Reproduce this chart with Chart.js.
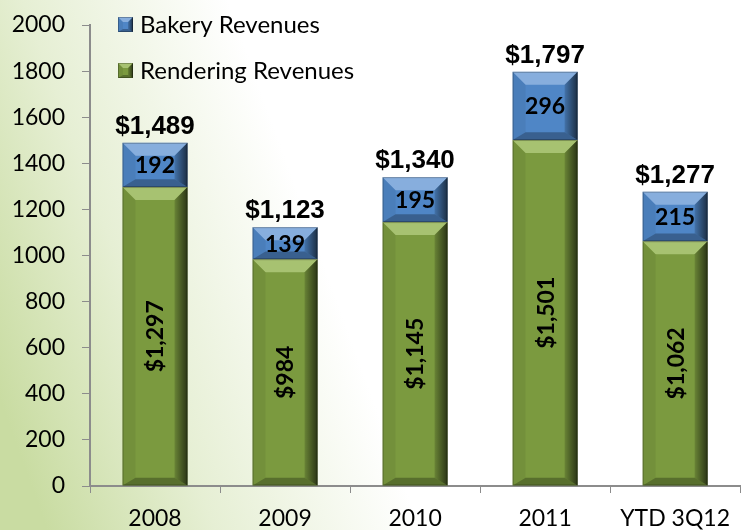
<!DOCTYPE html>
<html>
<head>
<meta charset="utf-8">
<script src="https://cdn.jsdelivr.net/npm/chart.js@4/dist/chart.umd.min.js"></script>
<style>
  html, body { margin: 0; padding: 0; background: #fff; }
  #wrap { width: 742px; height: 530px; position: relative; }
</style>
</head>
<body>
<div id="wrap"><canvas id="revChart" width="742" height="530"></canvas></div>
<script>
// revenue by year, $ millions
const years = ['2008', '2009', '2010', '2011', 'YTD 3Q12'];
const renderingRev = [1297, 984, 1145, 1501, 1062];
const bakeryRev = [192, 139, 195, 296, 215];
const totalRev = [1489, 1123, 1340, 1797, 1277];
const yTicks = [0, 200, 400, 600, 800, 1000, 1200, 1400, 1600, 1800, 2000];

const GREEN = '#7b9a3f';
const BLUE = '#4f86c6';
const HILITE = { [GREEN]: 'rgba(235,255,190,0.4)', [BLUE]: 'rgba(220,235,255,0.4)' };

const fmtMoney = v => '$' + v.toLocaleString('en-US');

// soft green wash coming in from the left edge
const bgPlugin = {
    id: 'bgWash',
    beforeDraw(chart) {
        const ctx = chart.ctx;
        const g = ctx.createLinearGradient(0, 400, 330, 280);
        g.addColorStop(0, '#c9dca2');
        g.addColorStop(0.45, '#e6efd4');
        g.addColorStop(1, '#ffffff');
        ctx.save();
        ctx.fillStyle = g;
        ctx.fillRect(0, 0, chart.width, chart.height);
        ctx.restore();
    }
};

// chiselled edges drawn over a rectangle
function bevel(ctx, l, t, r, b, size, hilite) {
    const w = r - l, h = b - t;
    const s = Math.min(size, w / 2, h / 2);
    const sb = Math.min(size * 0.6, h / 2);
    ctx.save();
    // top
    ctx.fillStyle = hilite || 'rgba(255,255,255,0.35)';
    ctx.beginPath();
    ctx.moveTo(l, t); ctx.lineTo(r, t); ctx.lineTo(r - s, t + s); ctx.lineTo(l + s, t + s);
    ctx.fill();
    // left
    ctx.fillStyle = 'rgba(0,0,0,0.06)';
    ctx.beginPath();
    ctx.moveTo(l, t); ctx.lineTo(l + s, t + s); ctx.lineTo(l + s, b - sb); ctx.lineTo(l, b);
    ctx.fill();
    // right
    const gr = ctx.createLinearGradient(r - s, 0, r, 0);
    gr.addColorStop(0, 'rgba(0,0,0,0.15)');
    gr.addColorStop(1, 'rgba(0,0,0,0.66)');
    ctx.fillStyle = gr;
    ctx.beginPath();
    ctx.moveTo(r, t); ctx.lineTo(r, b); ctx.lineTo(r - s, b - sb); ctx.lineTo(r - s, t + s);
    ctx.fill();
    // bottom
    ctx.fillStyle = 'rgba(0,0,0,0.28)';
    ctx.beginPath();
    ctx.moveTo(l, b); ctx.lineTo(r, b); ctx.lineTo(r - s, b - sb); ctx.lineTo(l + s, b - sb);
    ctx.fill();
    ctx.strokeStyle = 'rgba(0,0,0,0.25)';
    ctx.lineWidth = 1;
    ctx.strokeRect(l + 0.5, t + 0.5, w - 1, h - 1);
    ctx.restore();
}

const bevelPlugin = {
    id: 'barBevel',
    afterDatasetsDraw(chart) {
        const ctx = chart.ctx;
        chart.data.datasets.forEach((ds, i) => {
            chart.getDatasetMeta(i).data.forEach(bar => {
                const half = bar.width / 2;
                bevel(ctx, bar.x - half, Math.min(bar.y, bar.base), bar.x + half, Math.max(bar.y, bar.base), 13, HILITE[ds.backgroundColor]);
            });
        });
    }
};

// segment values, totals on top, and the legend in the upper left
const labelPlugin = {
    id: 'barLabels',
    afterDraw(chart) {
        const ctx = chart.ctx;
        const green = chart.getDatasetMeta(0).data;
        const blue = chart.getDatasetMeta(1).data;
        ctx.save();
        ctx.fillStyle = '#000';
        ctx.textAlign = 'center';
        ctx.textBaseline = 'middle';

        green.forEach((bar, i) => {
            ctx.save();
            ctx.translate(bar.x, (bar.y + bar.base) / 2);
            ctx.rotate(-Math.PI / 2);
            ctx.font = 'bold 23px Lato';
            ctx.fillText(fmtMoney(renderingRev[i]), 0, 1);
            ctx.restore();
        });

        blue.forEach((bar, i) => {
            ctx.font = 'bold 23px Lato';
            ctx.fillText(String(bakeryRev[i]), bar.x, (bar.y + bar.base) / 2 + 1);
            ctx.font = 'bold 26px "Liberation Sans"';
            ctx.textBaseline = 'alphabetic';
            ctx.fillText(fmtMoney(totalRev[i]), bar.x, bar.y - 9);
            ctx.textBaseline = 'middle';
        });

        // legend
        const items = [
            { text: 'Bakery Revenues', color: BLUE, y: 24 },
            { text: 'Rendering Revenues', color: GREEN, y: 70 }
        ];
        ctx.textAlign = 'left';
        ctx.font = '24px Lato';
        items.forEach(it => {
            ctx.fillStyle = it.color;
            ctx.fillRect(118, it.y - 7, 15, 15);
            bevel(ctx, 118, it.y - 7, 133, it.y + 8, 5, HILITE[it.color]);
            ctx.fillStyle = '#000';
            ctx.fillText(it.text, 140, it.y + 1);
        });
        ctx.restore();
    }
};

new Chart(document.getElementById('revChart').getContext('2d'), {
    type: 'bar',
    data: {
        labels: years,
        datasets: [
            { label: 'Rendering Revenues', data: renderingRev, backgroundColor: GREEN, borderWidth: 0 },
            { label: 'Bakery Revenues', data: bakeryRev, backgroundColor: BLUE, borderWidth: 0 }
        ]
    },
    options: {
        responsive: false,
        animation: false,
        barPercentage: 0.5,
        categoryPercentage: 1,
        layout: { padding: { top: 25, right: 0, left: 0, bottom: 0 } },
        plugins: {
            legend: { display: false },
            tooltip: { enabled: false }
        },
        scales: {
            x: {
                stacked: true,
                grid: { drawOnChartArea: false, color: '#8c8c8c', tickLength: 7, offset: true },
                border: { color: '#8c8c8c', width: 2 },
                ticks: { color: '#000', font: { family: 'Lato', size: 23 }, padding: 12 },
                afterFit(scale) { scale.height = 44; }
            },
            y: {
                stacked: true,
                min: 0,
                max: 2000,
                afterBuildTicks(scale) { scale.ticks = yTicks.map(v => ({ value: v })); },
                grid: { drawOnChartArea: false, color: '#8c8c8c', tickLength: 8 },
                border: { color: '#8c8c8c', width: 2 },
                ticks: {
                    color: '#000',
                    font: { family: 'Lato', size: 23 },
                    padding: 17,
                    callback: v => String(v)
                },
                afterFit(scale) {
                    scale.width = 90;
                    // label overhang is handled by the layout padding
                    scale.paddingTop = 0;
                    scale.paddingBottom = 0;
                }
            }
        }
    },
    plugins: [bgPlugin, bevelPlugin, labelPlugin]
});
</script>
</body>
</html>
